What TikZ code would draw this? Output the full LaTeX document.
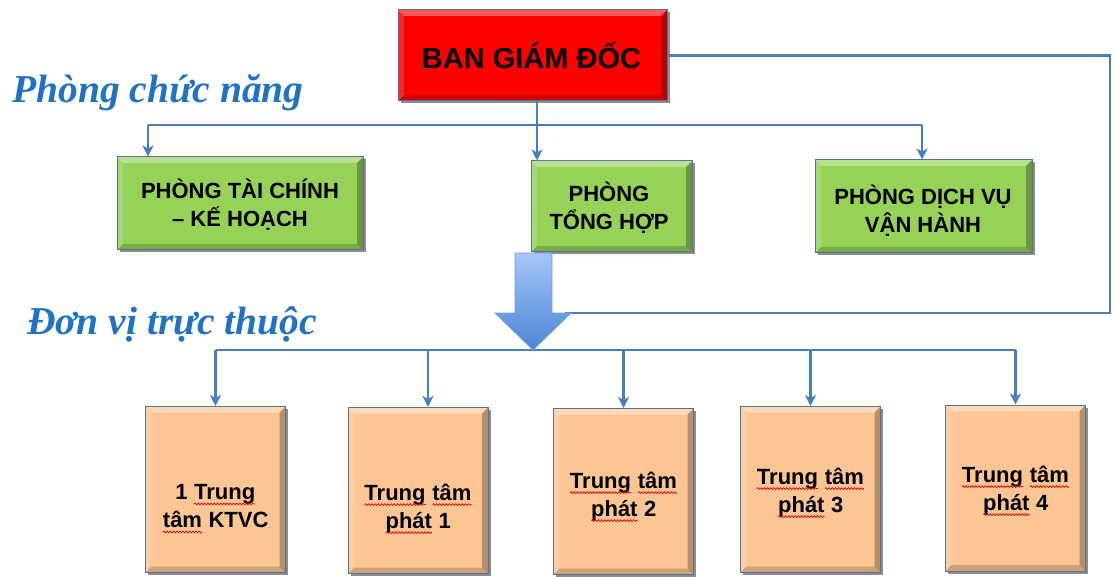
\documentclass[tikz,border=0pt]{standalone}
\usepackage{fontspec}
\setmainfont{Liberation Sans}
\newfontfamily\headfont{Liberation Serif}
\usetikzlibrary{arrows.meta,shadows,decorations.pathmorphing}
\definecolor{connc}{HTML}{4A7EBB}
\definecolor{redfill}{HTML}{FF0000}
\definecolor{greenfill}{HTML}{96D257}
\definecolor{orangefill}{HTML}{FBC693}
\definecolor{boxline}{HTML}{56719C}
\definecolor{headblue}{HTML}{1F72C4}
\definecolor{arrtop}{HTML}{A3C6F7}
\definecolor{arrbot}{HTML}{4C86D6}
\newcommand{\rwave}[1]{\tikz[baseline=(w.base),x=1pt,y=1pt]{\node[inner sep=0pt,outer sep=0pt] (w) {#1};\draw[red!85!black,line width=0.7pt,decorate,decoration={snake,amplitude=0.9pt,segment length=3.2pt}] ([yshift=-4pt]w.base west) -- ([yshift=-4pt]w.base east);}}
\tikzset{
  bevel/.style={path picture={
    \fill[white,opacity=.35] (path picture bounding box.north west) -- (path picture bounding box.north east) -- ([xshift=-6pt,yshift=-6pt]path picture bounding box.north east) -- ([xshift=6pt,yshift=-6pt]path picture bounding box.north west) -- cycle;
    \fill[white,opacity=.15] (path picture bounding box.north west) -- ([xshift=6pt,yshift=-6pt]path picture bounding box.north west) -- ([xshift=6pt,yshift=6pt]path picture bounding box.south west) -- (path picture bounding box.south west) -- cycle;
    \fill[black,opacity=.28] (path picture bounding box.north east) -- (path picture bounding box.south east) -- ([xshift=-6pt,yshift=6pt]path picture bounding box.south east) -- ([xshift=-6pt,yshift=-6pt]path picture bounding box.north east) -- cycle;
    \fill[black,opacity=.18] (path picture bounding box.south west) -- (path picture bounding box.south east) -- ([xshift=-6pt,yshift=6pt]path picture bounding box.south east) -- ([xshift=6pt,yshift=6pt]path picture bounding box.south west) -- cycle;
  }},
  boxbase/.style={rectangle, draw=boxline, line width=1pt, bevel, inner sep=0pt,
    drop shadow={shadow xshift=2.5pt, shadow yshift=-2.5pt, opacity=.45, fill=black}},
  redbox/.style={boxbase, fill=redfill, minimum width=269pt, minimum height=91pt},
  greenbox/.style={boxbase, fill=greenfill, minimum height=93pt},
  orangebox/.style={boxbase, fill=orangefill, minimum width=140pt, minimum height=166pt},
  bigtext/.style={font=\bfseries\fontsize{29}{34}\selectfont, text=black},
  midtext/.style={font=\bfseries\fontsize{22}{28}\selectfont, align=center, text=black, inner sep=0pt},
  headtext/.style={font=\headfont\bfseries\itshape\fontsize{39.5}{45}\selectfont, text=headblue, inner sep=0pt},
  conn/.style={draw=connc, line width=2.8pt},
  tip/.style={-{Stealth[length=11pt,width=11pt,inset=3pt]}},
}
\begin{document}
\begin{tikzpicture}[x=1pt,y=-1pt]
\useasboundingbox (0,0) rectangle (1118,577);
% headings
\node[headtext, anchor=base west] (h1) at (12,103) {Phòng chức năng};
\node[headtext, anchor=base west] (h2) at (27,334) {Đơn vị trực thuộc};
% boxes
\node[redbox] (bgd) at (532.5,55.5) {};
\node[bigtext] (bgdt) at (531.5,56) {BAN GIÁM ĐỐC};
\node[greenbox, minimum width=246pt] (tc) at (240,203.5) {};
\node[midtext] (tct) at (240,205) {PHÒNG TÀI CHÍNH\\– KẾ HOẠCH};
\node[greenbox, minimum width=161pt, minimum height=91pt] (th) at (611.5,206.5) {};
\node[midtext] (tht) at (609,208) {PHÒNG\\TỔNG HỢP};
\node[greenbox, minimum width=217pt] (dv) at (923.5,206.5) {};
\node[midtext] (dvt) at (923,211) {PHÒNG DỊCH VỤ\\VẬN HÀNH};
\node[orangebox] (c1) at (215.5,489.5) {};
\node[orangebox] (c2) at (418,490.5) {};
\node[orangebox] (c3) at (623.5,491.5) {};
\node[orangebox] (c4) at (810.5,489.5) {};
\node[orangebox] (c5) at (1015.5,488) {};
\node[midtext] (c1t) at (215.5,509) {1 \rwave{Trung}\\\rwave{tâm} KTVC};
\node[midtext] (c2t) at (418,509) {\rwave{Trung} \rwave{tâm}\\\rwave{phát} 1};
\node[midtext] (c3t) at (623.5,497) {\rwave{Trung} \rwave{tâm}\\\rwave{phát} 2};
\node[midtext] (c4t) at (810.5,493) {\rwave{Trung} \rwave{tâm}\\\rwave{phát} 3};
\node[midtext] (c5t) at (1015.5,491) {\rwave{Trung} \rwave{tâm}\\\rwave{phát} 4};
% top connectors
\coordinate (j1) at (537,125);
\coordinate (a1) at (148,155);
\coordinate (a3) at (922,155);
\draw[conn] (bgd.south -| j1) -- (j1);
\draw[conn] (a1 |- j1) -- (a3 |- j1);
\draw[conn,tip] (a1 |- j1) -- (a1 |- tc.north);
\draw[conn,tip] (j1) -- (j1 |- th.north);
\draw[conn,tip] (a3 |- j1) -- (a3 |- dv.north);
% right loop
\coordinate (rc) at (1110,313);
\coordinate (headR) at (565,313);
\draw[conn] (bgd.east) -| (rc) -- (headR);
% bottom bar
\coordinate (bar) at (533,350);
\coordinate (d2) at (428,350);
\draw[conn] (c1.north |- bar) -- (c5.north |- bar);
\draw[conn,tip] (c1.north |- bar) -- (c1.north);
\draw[conn,tip] (d2) -- (d2 |- c2.north);
\draw[conn,tip] (c3.north |- bar) -- (c3.north);
\draw[conn,tip] (c4.north |- bar) -- (c4.north);
\draw[conn,tip] (c5.north |- bar) -- (c5.north);
% big arrow
\shade[top color=arrtop, bottom color=arrbot, draw=arrbot!80!white, line width=0.8pt]
  (515,253) -- (552,253) -- (552,313) -- (571,313) -- (bar) -- (495,313) -- (515,313) -- cycle;
\end{tikzpicture}
\end{document}
